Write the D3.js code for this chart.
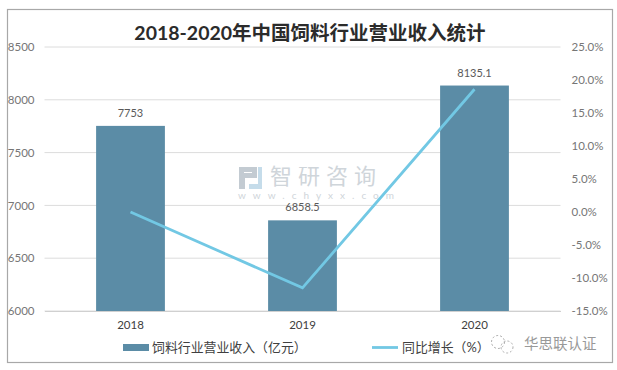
<!DOCTYPE html>
<html>
<head>
<meta charset="utf-8">
<script src="https://cdn.jsdelivr.net/npm/d3@7"></script>
<style>
  html, body { margin: 0; padding: 0; background: #fff; }
  svg { display: block; }
  text { font-family: Lato, "Noto Sans CJK SC", sans-serif; }
</style>
</head>
<body>
<script>
var years = ["2018", "2019", "2020"];
var revenue = [7753, 6858.5, 8135.1];
var growth = [0, -11.5, 18.6];
var leftTicks = [6000, 6500, 7000, 7500, 8000, 8500];
var rightTicks = [-15, -10, -5, 0, 5, 10, 15, 20, 25];
var titleText = "2018-2020年中国饲料行业营业收入统计";
var barLegend = "饲料行业营业收入（亿元）";
var lineLegend = "同比增长（%）";

var width = 617, height = 370;
var svg = d3.select("body").append("svg").attr("width", width).attr("height", height);

svg.append("rect")
	.attr("x", 7.5).attr("y", 9.5)
	.attr("width", 605).attr("height", 353)
	.style("fill", "#fff").style("stroke", "#a8a8a8").style("stroke-width", 1.2);

var x = d3.scaleBand().domain(years).range([44.5, 560.5]).paddingInner(0.6).paddingOuter(0.3);
var yLeft = d3.scaleLinear().domain([6000, 8500]).range([311, 47]);
var yRight = d3.scaleLinear().domain([-15, 25]).range([311, 47]);

// gridlines
svg.append("g").selectAll("line")
	.data(leftTicks)
	.enter().append("line")
	.attr("x1", 44.5).attr("x2", 560.5)
	.attr("y1", function(d) { return yLeft(d); })
	.attr("y2", function(d) { return yLeft(d); })
	.style("stroke", "#dcdcdc").style("stroke-width", 1);

// watermark
var mark = svg.append("g").style("fill", "#cfd5da");
mark.append("path").style("fill", "#c3cbd2")
	.attr("d", "M239 167h18v11h-12v11h-6zM244 172v1h8v-1z");
mark.append("path").style("fill", "#c5dcea")
	.attr("d", "M258 167h4v22h-13v-5h9z");
mark.append("text").attr("x", 270).attr("y", 184).style("font-size", "22px").style("letter-spacing", "6px").text("智研咨询");
mark.append("text").attr("x", 238).attr("y", 199).style("font-size", "10px").style("letter-spacing", "7px").text("www.chyxx.com");

// bars
svg.append("g").selectAll("rect")
	.data(revenue)
	.enter().append("rect")
	.attr("x", function(d, i) { return x(years[i]); })
	.attr("y", function(d) { return yLeft(d); })
	.attr("width", x.bandwidth())
	.attr("height", function(d) { return yLeft(6000) - yLeft(d); })
	.style("fill", "#5b8ca6");

svg.append("g").selectAll("text")
	.data(revenue)
	.enter().append("text")
	.attr("x", function(d, i) { return x(years[i]) + x.bandwidth() / 2; })
	.attr("y", function(d) { return yLeft(d) - 9; })
	.attr("text-anchor", "middle")
	.style("font-size", "11px").style("fill", "#595959")
	.text(function(d) { return d; });

// axes
var axisLeft = svg.append("g")
	.attr("transform", "translate(44.5,0)")
	.call(d3.axisLeft(yLeft).tickValues(leftTicks).tickSize(0).tickPadding(10).tickFormat(d3.format("d")));
var axisRight = svg.append("g")
	.attr("transform", "translate(560.5,0)")
	.call(d3.axisRight(yRight).tickValues(rightTicks).tickSize(0).tickPadding(11)
		.tickFormat(function(d) { return d.toFixed(1) + "%"; }));
var axisBottom = svg.append("g")
	.attr("transform", "translate(0,311)")
	.call(d3.axisBottom(x).tickSize(0).tickPadding(10));
axisLeft.select(".domain").remove();
axisRight.select(".domain").remove();
axisBottom.select(".domain").style("stroke", "#d0d0d0");
[axisLeft, axisRight].forEach(function(a) {
	a.selectAll("text").style("font-size", "11.5px").style("fill", "#767676").style("font-family", "Lato, sans-serif");
});
axisBottom.selectAll("text").style("font-size", "11.5px").style("fill", "#404040").style("font-family", "Lato, sans-serif");

// growth line
var line = d3.line()
	.x(function(d, i) { return x(years[i]) + x.bandwidth() / 2; })
	.y(function(d) { return yRight(d); });
svg.append("path")
	.datum(growth)
	.attr("d", line)
	.style("fill", "none").style("stroke", "#72c8e4").style("stroke-width", 2.8);

// title
svg.append("text")
	.attr("x", 310).attr("y", 40)
	.attr("text-anchor", "middle")
	.style("font-size", "19.5px").style("font-weight", "700").style("fill", "#2b2b2b")
	.text(titleText);

// legend
svg.append("rect").attr("x", 123).attr("y", 344).attr("width", 26).attr("height", 7).style("fill", "#5b8ca6");
svg.append("text").attr("x", 152).attr("y", 352).style("font-size", "12.9px").style("fill", "#404040").text(barLegend);
svg.append("line").attr("x1", 372).attr("x2", 398).attr("y1", 347.5).attr("y2", 347.5)
	.style("stroke", "#72c8e4").style("stroke-width", 2.8);
svg.append("text").attr("x", 402).attr("y", 352).style("font-size", "12.9px").style("fill", "#404040").text(lineLegend);

// account mark, bottom right
var wx = svg.append("g").style("fill", "none").style("stroke", "#adadad").style("stroke-width", 1).style("stroke-dasharray", "2 2");
wx.append("circle").attr("cx", 498).attr("cy", 342).attr("r", 6.5);
wx.append("circle").attr("cx", 507).attr("cy", 347).attr("r", 6);
svg.append("text").attr("x", 524).attr("y", 349).style("font-size", "14.5px").style("fill", "#999").text("华思联认证");
</script>
</body>
</html>
